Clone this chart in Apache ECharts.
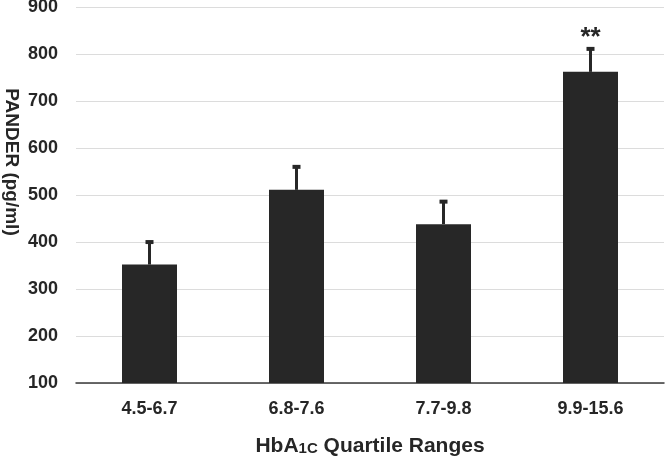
<!DOCTYPE html>
<html><head><meta charset="utf-8">
<script src="https://cdn.jsdelivr.net/npm/echarts@6/dist/echarts.min.js"></script>
<style>html,body{margin:0;padding:0;background:#fff}#c{width:669px;height:457px}</style>
</head><body><div id="c"></div>
<script>
var categories = ['4.5-6.7', '6.8-7.6', '7.7-9.8', '9.9-15.6'];
var means = [352, 511, 438, 762];
var errorTops = [402, 562, 488, 813];
var significance = ['', '', '', '**'];
var yTicks = [100, 200, 300, 400, 500, 600, 700, 800, 900];

var chart = echarts.init(document.getElementById('c'), null, {renderer: 'canvas'});
var textColor = '#262626';
var font = 'Liberation Sans, Arial, sans-serif';

var errData = categories.map(function (c, i) { return [i, means[i], errorTops[i]]; });

chart.setOption({
  animation: false,
  grid: {left: 76, right: 5, top: 7, bottom: 74, outerBoundsMode: 'none', containLabel: false},
  xAxis: {
    type: 'category',
    data: categories,
    axisTick: {show: false},
    axisLine: {lineStyle: {color: '#3a3a3a', width: 1.5}},
    axisLabel: {color: textColor, fontSize: 18, fontWeight: 'bold', fontFamily: font, margin: 17},
    name: '{m|HbA}{s|1C}{m| Quartile Ranges}',
    nameLocation: 'middle',
    nameGap: 53,
    nameTextStyle: {
      rich: {
        m: {fontSize: 21, fontWeight: 'bold', color: textColor, fontFamily: font},
        s: {fontSize: 15, fontWeight: 'bold', color: textColor, fontFamily: font, padding: [5, 0, 0, 0]}
      }
    }
  },
  yAxis: {
    type: 'value',
    min: yTicks[0],
    max: yTicks[yTicks.length - 1],
    interval: 100,
    axisLine: {show: false},
    axisTick: {show: false},
    splitLine: {lineStyle: {color: '#dcdcdc', width: 1}},
    axisLabel: {color: textColor, fontSize: 18, fontWeight: 'bold', fontFamily: font, margin: 18}
  },
  graphic: [{
    type: 'text',
    x: 11, y: 162,
    rotation: -Math.PI / 2,
    style: {
      text: 'PANDER (pg/ml)',
      fill: textColor,
      font: 'bold 19px ' + font,
      textAlign: 'center',
      textVerticalAlign: 'middle'
    }
  }],
  series: [{
    type: 'bar',
    data: means,
    barWidth: 55,
    itemStyle: {color: '#272727'},
    z: 2
  }, {
    type: 'custom',
    data: errData,
    z: 3,
    renderItem: function (params, api) {
      var x = api.coord([api.value(0), 0])[0];
      var yb = api.coord([0, api.value(1)])[1];
      var yt = api.coord([0, api.value(2)])[1];
      var children = [
        {type: 'line', shape: {x1: x, y1: yb, x2: x, y2: yt + 1}, style: {stroke: '#272727', lineWidth: 3}},
        {type: 'rect', shape: {x: x - 4, y: yt - 1, width: 8, height: 4}, style: {fill: '#272727'}}
      ];
      var sig = significance[params.dataIndex];
      if (sig) {
        children.push({type: 'text', x: x, y: yt + 3, style: {text: sig, fill: textColor, font: 'bold 26px ' + font, textAlign: 'center', textVerticalAlign: 'bottom'}});
      }
      return {type: 'group', children: children};
    }
  }]
});
</script></body></html>
